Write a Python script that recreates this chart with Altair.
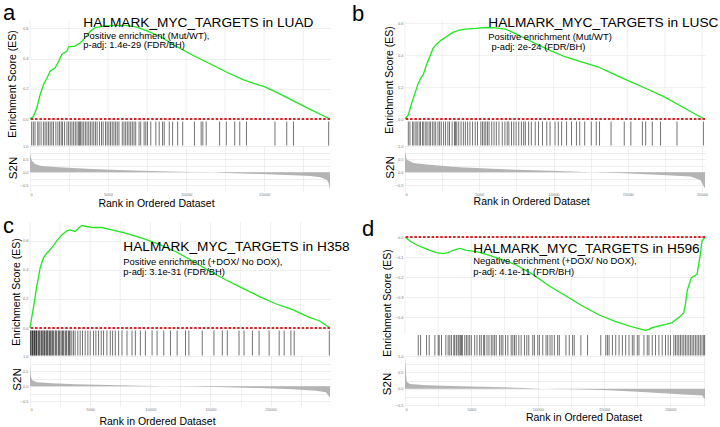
import altair as alt
import pandas as pd

FONT = "Liberation Sans"
GREEN = "#1fe61f"
RED = "#d42626"
GRID = "#e8e8e8"
AREA = "#b4b4b4"
W = 300

# ---------------- Panel a : LUAD ----------------
A_N = 19220
A_ES_RANK = [0, 215, 430, 645, 860, 1075, 1290, 1612, 1827, 2042, 2365, 2472, 2902, 3225, 3547, 3870, 4192,
             4837, 5482, 6127, 6772, 7417, 8277, 9352, 10427, 11502, 12577, 13652, 14727, 14942, 15802, 16877,
             17952, 19220]
A_ES = [0.0, 0.016, 0.071, 0.16, 0.227, 0.27, 0.316, 0.338, 0.38, 0.427, 0.449, 0.478, 0.482, 0.504, 0.538,
        0.582, 0.604, 0.616, 0.62, 0.62, 0.609, 0.587, 0.549, 0.482, 0.422, 0.367, 0.311, 0.26, 0.222, 0.218,
        0.176, 0.12, 0.064, 0.0]
A_HITS = [108, 215, 322, 495, 580, 710, 860, 968, 1075, 1183, 1290, 1398, 1505, 1656, 1785, 1892, 2000, 2086,
          2215, 2365, 2473, 2580, 2688, 2795, 2903, 3010, 3118, 3182, 3247, 3333, 3440, 3548, 3655, 3763, 3870,
          3978, 4085, 4193, 4300, 4450, 4580, 4687, 4838, 4945, 5053, 5160, 5268, 5375, 5483, 5590, 5698, 5913,
          6020, 6128, 6235, 6343, 6450, 6558, 6665, 6773, 6988, 7095, 7310, 7418, 7525, 7740, 8063, 8278, 8493,
          8600, 8923, 9138, 9460, 9783, 10535, 10965, 11073, 11288, 12148, 12578, 13115, 13438, 13868, 15695,
          16448, 16878, 19135]
A_S2N_RANK = [0, 108, 323, 753, 1828, 3978, 6128, 8278, 10428, 11718, 12578, 14728, 16878, 17953, 18598,
              19028, 19135, 19220]
A_S2N = [0.73, 0.45, 0.32, 0.24, 0.19, 0.13, 0.077, 0.04, 0.013, 0.0, -0.026, -0.064, -0.115, -0.14, -0.19,
         -0.29, -0.42, -0.68]
A_XGRID = [0, 2500, 5000, 7500, 10000, 12500, 15000, 17500]

# ---------------- Panel b : LUSC ----------------
B_N = 20200
B_ES_RANK = [0, 222, 444, 666, 888, 1110, 1221, 1443, 1665, 1887, 2109, 2442, 2775, 3219, 3663, 4107, 4773,
             5439, 6105, 6771, 7437, 8103, 8991, 9879, 10767, 11877, 12987, 14097, 15207, 16317, 17427, 18537,
             19647, 20180]
B_ES = [0.0, 0.025, 0.098, 0.16, 0.223, 0.265, 0.275, 0.338, 0.39, 0.442, 0.467, 0.494, 0.515, 0.542, 0.556,
        0.563, 0.567, 0.573, 0.571, 0.563, 0.535, 0.504, 0.463, 0.425, 0.39, 0.358, 0.327, 0.279, 0.233, 0.188,
        0.14, 0.083, 0.025, 0.0]
B_HITS = [222, 333, 511, 599, 733, 821, 955, 1043, 1177, 1265, 1399, 1487, 1621, 1709, 1843, 1954, 2065, 2220,
          2331, 2442, 2597, 2731, 2886, 2997, 3175, 3330, 3397, 3485, 3619, 3774, 3929, 4063, 4218, 4373, 4551,
          4729, 4884, 5106, 5217, 5328, 5439, 5550, 5661, 5839, 5994, 6149, 6327, 6549, 6727, 6882, 6993, 7171,
          7326, 7481, 7659, 7837, 7992, 8103, 8325, 8503, 8769, 8991, 9257, 9546, 9768, 10101, 10323, 10545,
          10878, 11211, 11544, 11766, 12099, 12543, 12876, 13098, 13875, 14763, 15207, 15984, 16206, 16650,
          17205, 18315, 20091]
B_S2N_RANK = [0, 111, 555, 1444, 3667, 5889, 8111, 10333, 12556, 14778, 17000, 19222, 19889, 20200]
B_S2N = [0.8, 0.48, 0.35, 0.29, 0.19, 0.13, 0.08, 0.04, 0.0, -0.04, -0.1, -0.17, -0.3, -0.62]
B_XGRID = [0, 2500, 5000, 7500, 10000, 12500, 15000, 17500, 20000]

# ---------------- Panel c : H358 ----------------
C_N = 24937
C_ES_RANK = [0, 139, 278, 417, 556, 695, 834, 1112, 1390, 1668, 1946, 2224, 2641, 3058, 3336, 3753, 4031,
             4309, 4726, 5282, 5977, 6811, 7923, 9313, 10703, 12093, 13483, 14873, 16263, 17653, 19043, 20433,
             21823, 23213, 24047, 24937]
C_ES = [0.0, 0.069, 0.137, 0.206, 0.286, 0.344, 0.412, 0.481, 0.515, 0.538, 0.568, 0.6, 0.641, 0.669, 0.676,
        0.664, 0.687, 0.706, 0.699, 0.692, 0.692, 0.676, 0.653, 0.619, 0.577, 0.527, 0.463, 0.394, 0.332, 0.275,
        0.218, 0.167, 0.126, 0.073, 0.05, 0.0]
C_HITS = [40, 83, 167, 210, 250, 334, 375, 417, 500, 540, 584, 695, 750, 806, 917, 970, 1029, 1140, 1200,
          1251, 1362, 1420, 1473, 1585, 1640, 1696, 1807, 1880, 1946, 2085, 2150, 2224, 2363, 2430, 2502, 2641,
          2710, 2780, 2919, 2990, 3058, 3197, 3270, 3336, 3475, 3614, 3753, 3975, 4170, 4365, 4587, 4809, 5004,
          5282, 5477, 5699, 5921, 6116, 6394, 6672, 6867, 7089, 7367, 7645, 8062, 8479, 8757, 9174, 9591, 10147,
          10564, 11120, 11676, 12232, 12927, 13205, 14317, 15290, 15985, 16402, 17375, 17792, 18487, 19043,
          19877, 20711, 21128, 21684, 21962, 24881]
C_S2N_RANK = [0, 83, 195, 556, 1807, 3753, 6533, 9313, 11259, 13483, 16263, 19043, 21823, 23769, 24603, 24937]
C_S2N = [0.67, 0.3, 0.2, 0.13, 0.1, 0.07, 0.04, 0.015, 0.0, -0.01, -0.03, -0.06, -0.1, -0.15, -0.2, -0.38]
C_XGRID = [0, 2500, 5000, 7500, 10000, 12500, 15000, 17500, 20000, 22500]

# ---------------- Panel d : H596 ----------------
D_N = 22600
D_ES_RANK = [0, 375, 875, 1375, 1875, 2375, 2875, 3250, 3500, 3875, 4125, 4625, 5375, 6125, 6875, 7625, 8375,
             9625, 10875, 12125, 13375, 14625, 15875, 17125, 18125, 18375, 18625, 19125, 19625, 20125, 20625,
             21000, 21125, 21250, 21575, 22000, 22125, 22250, 22375, 22600]
D_ES = [0.0, -0.02, -0.04, -0.053, -0.067, -0.078, -0.083, -0.078, -0.07, -0.062, -0.057, -0.067, -0.073,
        -0.087, -0.103, -0.12, -0.14, -0.187, -0.245, -0.295, -0.345, -0.39, -0.423, -0.45, -0.467, -0.462,
        -0.453, -0.445, -0.437, -0.428, -0.403, -0.378, -0.337, -0.27, -0.203, -0.187, -0.137, -0.087, -0.02, 0.0]
D_HITS = [1000, 1175, 1625, 1825, 2250, 2500, 2575, 2750, 3075, 3250, 3375, 3500, 3675, 3750, 3875, 4000, 4075,
          4175, 4250, 4325, 4500, 4625, 4750, 4875, 5000, 5250, 5425, 5625, 5750, 5925, 6000, 6175, 6325, 6500,
          6625, 6750, 6875, 7125, 7250, 7375, 7575, 7750, 8000, 8125, 8250, 8375, 8575, 8750, 9000, 9175, 9325,
          9625, 9750, 10000, 10125, 10375, 10625, 10750, 10925, 11075, 11250, 11500, 11625, 12125, 12375, 12625,
          12750, 13250, 13750, 14750, 15125, 15250, 15375, 15625, 15875, 16125, 16375, 16625, 16875, 17125,
          17250, 17500, 17625, 18000, 18250, 18375, 18625, 18875, 19125, 19375, 19625, 19825, 20000, 20250,
          20375, 20500, 20625, 20750, 20875, 21000, 21125, 21250, 21375, 21500, 21625, 21750, 21875, 22000,
          22125, 22250, 22375, 22500, 22575]
D_S2N_RANK = [0, 125, 375, 1625, 4125, 6625, 9125, 10375, 12875, 15375, 17875, 20375, 22375, 22600]
D_S2N = [0.9, 0.21, 0.14, 0.105, 0.075, 0.05, 0.02, 0.0, -0.02, -0.05, -0.1, -0.16, -0.21, -0.32]
D_XGRID = [0, 2500, 5000, 7500, 10000, 12500, 15000, 17500, 20000, 22500]

POS_TICKS = [0.0, 0.2, 0.4, 0.6]
NEG_TICKS = [0.0, -0.1, -0.2, -0.3, -0.4]
S2N_TICKS = [-0.5, -0.25, 0.0, 0.25, 0.5, 0.75, 1.0]

GENESET = "HALMARK_MYC_TARGETS in "
ES_TITLE = "Enrichment Score (ES)"
X_TITLE = "Rank in Ordered Dataset"


def txt(s, x, y, size, angle=0, align="left", baseline="alphabetic"):
    return alt.Chart(pd.DataFrame({"t": [s]})).mark_text(
        align=align, baseline=baseline, fontSize=size, angle=angle, font=FONT, color="black"
    ).encode(x=alt.value(x), y=alt.value(y), text="t:N")


def gap(h):
    return alt.Chart(pd.DataFrame({"t": [""]})).mark_text().encode(
        x=alt.value(0), y=alt.value(0), text="t:N"
    ).properties(width=W, height=h)


def panel(n, es_rank, es, es_dom, es_ticks, es_top, es_bot, hit_top, cell_h, hits, s2n_rank, s2n, s2n_dom,
          s2n_h, xgrid, ann):
    """One GSEA panel: an ES + hit-strip cell and an S2N cell."""
    xs = alt.Scale(domain=[0, n], nice=False, zero=False)
    ys = alt.Scale(domain=es_dom, range=[es_bot, es_top], nice=False, zero=False)
    y_es_ax = alt.Axis(values=es_ticks, format=".1f", labelFontSize=4, labelColor="#777", labelPadding=2,
                       ticks=False, domain=False, title=None, grid=True, gridColor=GRID, gridWidth=0.7)

    vgrid = alt.Chart(pd.DataFrame({"rank": xgrid})).mark_rule(color=GRID, strokeWidth=0.7).encode(
        x=alt.X("rank:Q", scale=xs, axis=None),
        y=alt.value(es_top), y2=alt.value(es_bot),
    )
    es_df = pd.DataFrame({"rank": es_rank, "es": es})
    line = alt.Chart(es_df).mark_line(color=GREEN, strokeWidth=1.3).encode(
        x=alt.X("rank:Q", scale=xs, axis=None),
        y=alt.Y("es:Q", scale=ys, axis=y_es_ax),
    )
    zero = alt.Chart(pd.DataFrame({"es": [0.0]})).mark_rule(
        color=RED, strokeDash=[2.5, 1.8], strokeWidth=2
    ).encode(y=alt.Y("es:Q", scale=ys, axis=y_es_ax))
    hit = alt.Chart(pd.DataFrame({"rank": hits})).mark_rule(
        color="black", strokeWidth=0.8, opacity=0.7
    ).encode(
        x=alt.X("rank:Q", scale=xs, axis=None),
        y=alt.value(hit_top),
        y2=alt.value(cell_h - 0.5),
    )
    texts = [
        txt(ann["letter"][0], ann["letter"][1], ann["letter"][2], 22),
        txt(GENESET + ann["title"][0], ann["title"][1], ann["title"][2], 13.7),
        txt(ann["sub1"][0], ann["sub1"][1], ann["sub1"][2], 9.4),
        txt(ann["sub2"][0], ann["sub2"][1], ann["sub2"][2], 9.4),
        txt(ES_TITLE, ann["es_title"][0], ann["es_title"][1], 10.5, angle=270, align="center",
            baseline="middle"),
    ]
    eh_chart = alt.layer(vgrid, line, hit, zero, *texts).properties(width=W, height=cell_h)

    x_ax = alt.Axis(values=xgrid, labelExpr="datum.value % 5000 === 0 ? datum.label : ''", format="d",
                    labelFontSize=4, labelColor="#777", labelPadding=1, ticks=False, domain=False, title=None,
                    grid=True, gridColor=GRID, gridWidth=0.7)
    y_ax = alt.Axis(values=S2N_TICKS, labelExpr="(datum.value * 2) % 1 === 0 ? datum.label : ''",
                    format=".1f", labelFontSize=4, labelColor="#777", labelPadding=2, ticks=False,
                    domain=False, title=None, grid=True, gridColor=GRID, gridWidth=0.7)
    s2n_df = pd.DataFrame({"rank": s2n_rank, "s2n": s2n})
    area = alt.Chart(s2n_df).mark_area(color=AREA).encode(
        x=alt.X("rank:Q", scale=xs, axis=x_ax),
        y=alt.Y("s2n:Q", scale=alt.Scale(domain=s2n_dom, nice=False, zero=False), axis=y_ax),
        y2=alt.datum(0),
    )
    s2n_chart = alt.layer(
        area,
        txt("S2N", ann["s2n_title"][0], ann["s2n_title"][1], 11.5, angle=270, align="center",
            baseline="middle"),
        txt(X_TITLE, ann["x_title"][0], ann["x_title"][1], 10.5, align="center"),
    ).properties(width=W, height=s2n_h)
    return eh_chart, s2n_chart


aEH, aS = panel(A_N, A_ES_RANK, A_ES, [0, 0.655], POS_TICKS, 0, 99, 101.5, 126, A_HITS, A_S2N_RANK, A_S2N,
                [-0.71, 1.0], 45, A_XGRID,
                {"letter": ("a", -27, 0), "title": ("LUAD", 53.3, 6.5),
                 "sub1": ("Positive enrichment (Mut/WT),", 53.3, 18.5),
                 "sub2": ("p-adj: 1.4e-29 (FDR/BH)", 53.3, 28.3),
                 "es_title": (-16.7, 64), "s2n_title": (-16, 22), "x_title": (126.5, 60.7)})

bEH, bS = panel(B_N, B_ES_RANK, B_ES, [0, 0.62], POS_TICKS, 0, 99, 101.5, 126, B_HITS, B_S2N_RANK, B_S2N,
                [-0.72, 1.0], 45, B_XGRID,
                {"letter": ("b", -53, 0.5), "title": ("LUSC", 83.3, 7),
                 "sub1": ("Positive enrichment (Mut/WT)", 83.3, 19.5),
                 "sub2": ("p-adj: 2e-24 (FDR/BH)", 86.5, 29.5),
                 "es_title": (-15, 60), "s2n_title": (-14, 21.5), "x_title": (126.7, 59)})

cEH, cS = panel(C_N, C_ES_RANK, C_ES, [0, 0.73], POS_TICKS, 0, 106, 108.5, 134, C_HITS, C_S2N_RANK, C_S2N,
                [-0.65, 1.0], 50, C_XGRID,
                {"letter": ("c", -27, 11), "title": ("H358", 93.3, 29.3),
                 "sub1": ("Positive enrichment (+DOX/ No DOX),", 93.3, 42.7),
                 "sub2": ("p-adj: 3.1e-31 (FDR/BH)", 93.3, 53.3),
                 "es_title": (-13.3, 70), "s2n_title": (-12.5, 23.5), "x_title": (127.5, 68.7)})

dEH, dS = panel(D_N, D_ES_RANK, D_ES, [-0.485, 0.0], NEG_TICKS, 15, 112, 113, 134, D_HITS, D_S2N_RANK, D_S2N,
                [-0.53, 1.0], 50, D_XGRID,
                {"letter": ("d", -43, 14.3), "title": ("H596", 68.3, 31),
                 "sub1": ("Negative enrichment (+DOX/ No DOX),", 68.3, 42),
                 "sub2": ("p-adj: 4.1e-11 (FDR/BH)", 68.3, 52.7),
                 "es_title": (-17.5, 81), "s2n_title": (-17, 28), "x_title": (179, 64.7)})

cells = [aEH, bEH,
         aS, bS,
         gap(31), gap(31),
         cEH, dEH,
         cS, dS]

chart = alt.concat(
    *cells, columns=2, spacing={"row": 0, "column": 75}, bounds="flush", align="none"
).resolve_scale(
    x="independent", y="independent"
).properties(
    padding={"left": 3, "top": 2, "right": 0, "bottom": 0},
    background="white",
).configure_view(stroke=None).configure_axis(labelFont=FONT, titleFont=FONT)

chart.save("out.html", embed_options={"renderer": "svg", "actions": False})
